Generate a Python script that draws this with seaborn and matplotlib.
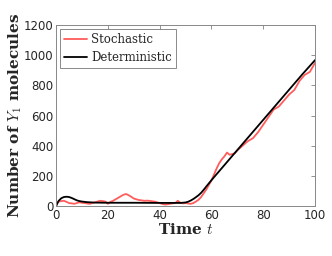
import numpy as np
import pandas as pd
import matplotlib
matplotlib.use("Agg")
import matplotlib.pyplot as plt
import seaborn as sns

# Stochastic trajectory
stoch_t = [0, 0.5, 1, 2, 3, 4, 5, 6, 7, 8, 9, 10, 11, 12, 13, 14, 15, 16, 17, 18, 19, 20,
           21, 22, 23, 24, 25, 26, 27, 28, 29, 30, 31, 32, 33, 34, 35, 36, 37, 38, 39, 40,
           41, 42, 43, 44, 45, 46, 47, 48, 49, 50, 51, 52, 53, 54, 55, 56, 57, 58, 59, 60,
           61, 62, 63, 64, 65, 66, 67, 68, 69, 70, 71, 72, 73, 74, 75, 76, 77, 78, 79, 80,
           81, 82, 83, 84, 85, 86, 87, 88, 89, 90, 91, 92, 93, 94, 95, 96, 97, 98, 99, 100]
stoch_y = [0, 20, 30, 33, 35, 28, 20, 18, 15, 20, 25, 22, 20, 17, 15, 20, 25, 30, 35, 33, 30, 15,
           28, 35, 45, 55, 65, 75, 80, 72, 62, 50, 45, 40, 38, 35, 36, 35, 32, 30, 25, 20,
           14, 10, 12, 15, 18, 20, 35, 22, 18, 20, 17, 15, 20, 30, 42, 60, 85, 110, 140, 170,
           210, 250, 285, 310, 330, 355, 340, 345, 350, 370, 385, 400, 415, 430, 440, 450, 470, 490, 515, 540,
           565, 590, 615, 640, 650, 660, 680, 700, 720, 740, 755, 770, 800, 830, 850, 870, 880, 890, 920, 950]

# Deterministic solution
det_t = [0, 0.5, 1, 2, 3, 4, 5, 6, 7, 8, 9, 10, 12, 15, 20, 30, 40, 48, 50, 51, 52, 53, 54,
         55, 56, 57, 58, 60, 65, 70, 75, 80, 85, 90, 95, 100]
det_y = [0, 20, 35, 52, 60, 62, 60, 54, 46, 38, 33, 30, 26, 23, 22, 22, 21, 21, 24, 29, 37, 47, 59,
         72, 88, 108, 130, 172, 272, 372, 472, 572, 672, 772, 872, 968]

df_s = pd.DataFrame({"t": stoch_t, "y": stoch_y})
df_d = pd.DataFrame({"t": det_t, "y": det_y})

sns.set_style("white")
plt.rcParams["mathtext.fontset"] = "cm"
plt.rcParams["font.family"] = ["DejaVu Sans"]

fig = plt.figure(figsize=(3.32, 2.56), dpi=100)
ax = fig.add_axes([0.169, 0.195, 0.78, 0.707])

sns.lineplot(data=df_s, x="t", y="y", ax=ax, color="#ff5c5c", lw=1.3, label="Stochastic",
             estimator=None, sort=False)
sns.lineplot(data=df_d, x="t", y="y", ax=ax, color="black", lw=1.3, label="Deterministic",
             estimator=None, sort=False)

ax.set_xlim(0, 100)
ax.set_ylim(0, 1200)
ax.set_xticks([0, 20, 40, 60, 80, 100])
ax.set_yticks([0, 200, 400, 600, 800, 1000, 1200])
ax.tick_params(direction="in", length=3, width=0.6, colors="#808080", labelcolor="#262626",
               labelsize=8.5, top=True, right=True, pad=2)
for s in ax.spines.values():
    s.set_color("#888888")
    s.set_linewidth(0.7)

ax.set_xlabel(r"Time $t$", family="DejaVu Serif",
              fontweight="bold", fontsize=11, labelpad=0)
ax.set_ylabel(r"Number of $Y_1$ molecules", family="DejaVu Serif",
              fontweight="bold", fontsize=11, labelpad=0)

leg = ax.legend(loc="upper left", prop={"family": "DejaVu Serif", "size": 8.5},
                frameon=True, fancybox=False, handlelength=2.0, handletextpad=0.3,
                borderaxespad=0.3, borderpad=0.35, labelspacing=0.45)
leg.get_frame().set_edgecolor("#555555")
leg.get_frame().set_linewidth(0.6)

fig.savefig("out.png", dpi=100)
